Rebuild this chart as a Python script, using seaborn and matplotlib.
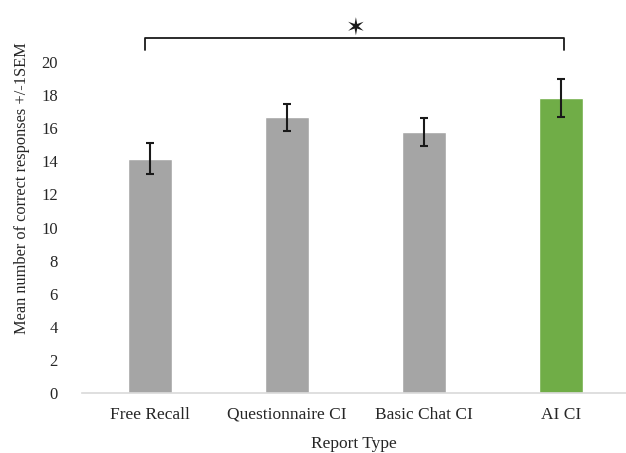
import matplotlib
matplotlib.use("Agg")
import matplotlib.pyplot as plt
import seaborn as sns
import pandas as pd

# values
report_types = ['Free Recall', 'Questionnaire CI', 'Basic Chat CI', 'AI CI']
mean_correct = [14.15, 16.65, 15.78, 17.85]
sem = [0.93, 0.82, 0.84, 1.15]
bar_colors = ['#A5A5A5', '#A5A5A5', '#A5A5A5', '#70AD47']
y_ticks = [0, 2, 4, 6, 8, 10, 12, 14, 16, 18, 20]

df = pd.DataFrame({'report': report_types, 'mean': mean_correct, 'sem': sem})

sns.set_style('white')
plt.rcParams['font.family'] = ['Liberation Serif', 'DejaVu Sans']

fig = plt.figure(figsize=(6.26, 4.53), dpi=100)
ax = fig.add_axes([81.5 / 626, 60 / 453, 544.5 / 626, 331 / 453])

sns.barplot(data=df, x='report', y='mean', hue='report', palette=bar_colors,
            width=0.32, legend=False, errorbar=None, saturation=1, ax=ax)
ax.errorbar(x=range(len(report_types)), y=df['mean'], yerr=df['sem'],
            fmt='none', ecolor='#1a1a1a', elinewidth=1.5, capsize=3, capthick=1.5)

ax.set_xlim(-0.5, -0.5 + 544.5 / 137)
ax.set_ylim(0, 20)
ax.set_yticks(y_ticks)
ax.tick_params(axis='both', length=0, colors='#262626')
ax.tick_params(axis='y', pad=17, labelsize=12)
ax.tick_params(axis='x', pad=10, labelsize=12.5)

for s in ['top', 'right', 'left']:
    ax.spines[s].set_visible(False)
ax.spines['bottom'].set_color('#D9D9D9')
ax.spines['bottom'].set_linewidth(1.2)

ax.set_xlabel('Report Type', fontsize=12.5, color='#262626', labelpad=9.5)
ax.set_ylabel('Mean number of correct responses +/-1SEM', fontsize=11.8,
              color='#262626')
ax.yaxis.set_label_coords(-0.095, 0.62)

# significance bracket
ax.plot([-0.04, -0.04, 3.02, 3.02], [20.73, 21.45, 21.45, 20.73],
        color='#1a1a1a', lw=1.3, clip_on=False)
ax.text(1.5, 22.0, '✶', ha='center', va='center', fontsize=17,
        family=['DejaVu Sans'], color='#1a1a1a', clip_on=False)

fig.savefig('out.png', dpi=100)
